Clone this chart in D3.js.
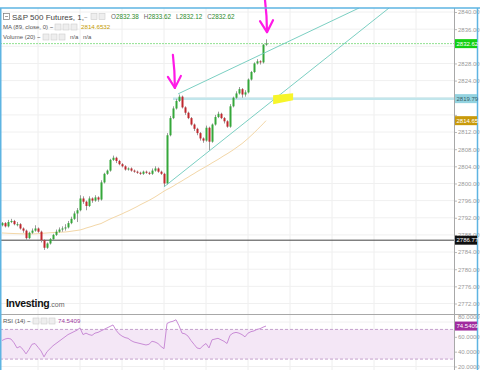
<!DOCTYPE html>
<html lang="en">
<head>
  <meta charset="utf-8">
  <title>S&amp;P 500 Futures, 1</title>
  <style>
    html, body { margin:0; padding:0; background:#fff; }
    svg { display:block; font-family:"Liberation Sans", Arial, sans-serif; }
    .tick text { fill:#9a9a9a; }
  </style>
</head>
<body>
  <div id="chart"></div>

<script src="https://cdn.jsdelivr.net/npm/d3@7"></script>
<script>

  ////////////////////////////////////////////////// DATA (1 minute bars)

  var firstOpen = 2790.25;

  var closes = [
    2790.75, 2790.0, 2791.0, 2791.25, 2790.5, 2790.5, 2789.5, 2789.0, 2787.25, 2788.5,
    2789.0, 2789.5, 2788.75, 2786.75, 2785.0, 2786.0, 2787.0, 2788.0, 2788.75, 2789.25,
    2789.5, 2789.75, 2790.75, 2791.75, 2793.0, 2793.75, 2796.5, 2795.75, 2794.75, 2796.5,
    2796.0, 2796.75, 2796.25, 2800.25, 2802.25, 2803.0, 2805.5, 2806.0, 2805.25, 2804.5,
    2804.0, 2803.25, 2803.5, 2803.0, 2802.75, 2802.5, 2802.25, 2802.75, 2802.5, 2802.25,
    2803.0, 2803.5, 2802.75, 2802.25, 2800.0, 2811.25, 2815.25, 2817.5, 2819.25, 2820.25,
    2817.75, 2816.5, 2815.25, 2813.75, 2812.75, 2811.75, 2810.5, 2810.0, 2813.0, 2809.75,
    2813.75, 2815.5, 2816.25, 2815.25, 2814.5, 2813.25, 2818.0, 2820.0, 2821.0, 2822.0,
    2820.75, 2821.25, 2824.25, 2826.0, 2828.0, 2828.5, 2828.25, 2832.38, 2832.62
  ];

  var highs = [
    2791.0, 2791.0, 2791.5, 2791.75, 2791.5, 2791.0, 2790.75, 2789.75, 2789.25, 2788.75,
    2789.5, 2790.25, 2789.75, 2789.0, 2787.0, 2786.25, 2787.25, 2788.25, 2789.25, 2789.75,
    2790.0, 2790.5, 2791.25, 2792.25, 2793.5, 2794.25, 2797.25, 2797.0, 2796.0, 2797.0,
    2796.75, 2797.25, 2797.0, 2800.75, 2802.5, 2803.25, 2805.75, 2806.5, 2806.25, 2805.5,
    2804.75, 2804.25, 2803.75, 2803.75, 2803.25, 2803.0, 2802.75, 2803.0, 2803.0, 2802.75,
    2803.5, 2804.0, 2803.75, 2803.0, 2802.5, 2811.75, 2815.75, 2818.0, 2819.75, 2820.75,
    2820.5, 2818.0, 2816.75, 2815.5, 2814.0, 2813.0, 2812.0, 2810.75, 2813.5, 2813.25,
    2814.0, 2816.0, 2816.75, 2816.5, 2815.5, 2814.75, 2818.5, 2820.25, 2821.5, 2822.5,
    2822.25, 2821.75, 2824.5, 2826.25, 2828.25, 2829.0, 2828.75, 2832.5, 2833.62
  ];

  var lows = [
    2790.0, 2789.75, 2789.75, 2790.75, 2790.25, 2790.0, 2789.25, 2788.5, 2786.75, 2787.0,
    2788.25, 2788.75, 2788.5, 2786.25, 2784.5, 2784.75, 2785.75, 2786.75, 2787.75, 2788.5,
    2788.75, 2789.0, 2789.5, 2790.5, 2791.5, 2791.0, 2793.5, 2795.25, 2793.75, 2794.5,
    2795.5, 2795.75, 2795.75, 2796.0, 2800.0, 2802.0, 2802.75, 2805.25, 2804.75, 2804.25,
    2803.75, 2803.0, 2803.0, 2802.75, 2802.5, 2802.25, 2802.0, 2802.0, 2802.25, 2802.0,
    2802.0, 2802.75, 2802.5, 2802.0, 2799.25, 2799.75, 2811.0, 2815.0, 2817.25, 2819.0,
    2817.5, 2816.0, 2815.0, 2813.5, 2812.25, 2811.25, 2810.0, 2809.5, 2809.75, 2807.75,
    2809.5, 2813.5, 2815.25, 2815.0, 2814.0, 2813.0, 2813.0, 2817.75, 2819.75, 2820.75,
    2820.0, 2820.25, 2821.0, 2824.0, 2825.75, 2827.75, 2827.75, 2828.0, 2832.12
  ];

  // MA (89, close)
  var maValues = [
    2788.45, 2788.42, 2788.38, 2788.35, 2788.32, 2788.3, 2788.27, 2788.25, 2788.23, 2788.22, 2788.22,
    2788.25, 2788.3, 2788.35, 2788.4, 2788.45, 2788.5, 2788.55, 2788.58, 2788.62, 2788.65, 2788.68,
    2788.75, 2788.85, 2788.95, 2789.05, 2789.15, 2789.35, 2789.6, 2789.8, 2790.0, 2790.25, 2790.45,
    2790.65, 2791.0, 2791.35, 2791.7, 2792.0, 2792.3, 2792.6, 2792.9, 2793.25, 2793.55, 2793.9,
    2794.25, 2794.6, 2795.0, 2795.35, 2795.7, 2796.05, 2796.45, 2796.85, 2797.3, 2797.75, 2798.2,
    2798.6, 2798.95, 2799.35, 2799.8, 2800.2, 2800.6, 2801.05, 2801.45, 2801.9, 2802.3, 2802.75,
    2803.15, 2803.55, 2803.95, 2804.35, 2804.8, 2805.2, 2805.6, 2806.05, 2806.5, 2806.9, 2807.35,
    2807.8, 2808.3, 2808.8, 2809.3, 2809.9, 2810.5, 2811.15, 2811.8, 2812.5, 2813.2, 2813.9, 2814.65
  ];

  // RSI (14)
  var rsiValues = [
    55, 57, 58, 57, 52, 45, 47, 43, 37, 43,
    50, 51, 46, 41, 33, 40, 44, 48, 51, 54,
    57, 60, 63, 65, 67, 69, 72, 63, 65, 63,
    62, 65, 66, 68, 70, 72, 74, 76, 69, 64,
    61, 59, 58, 55, 53, 52, 51, 50, 49, 50,
    54, 53, 51, 47, 44, 78, 80, 81, 83, 75,
    65, 64, 61, 55, 50, 45, 44, 48, 51, 45,
    56, 57, 58, 56, 54, 51, 62, 65, 66, 65,
    63, 60, 65, 67, 68, 70, 71, 73, 74.5409
  ];

  var priceTicks = [2772, 2776, 2780, 2784, 2788, 2792, 2796, 2800, 2804, 2808, 2812, 2816, 2820, 2824, 2828, 2832, 2836, 2840];
  var hiddenPriceLabels = [2816, 2820, 2832];   // covered by the price tags
  var rsiTicks = [20, 40, 60, 80];
  var timeGrid = [12, 26, 40, 54, 68, 82, 96, 110, 124, 138];   // bar index of vertical grid lines

  var lastBar = {o: 2832.38, h: 2833.62, l: 2832.12, c: 2832.62};
  var maLast = 2814.6532;
  var rsiLast = 74.5409;

  // drawn objects
  var levelLine = 2819.79;      // light blue horizontal from the top
  var blackLine = 2786.77;
  var trendLines = [
    {i0: 58.7, p0: 2820.9, i1: 119.0, p1: 2840.93},
    {i0: 54.0, p0: 2799.2, i1: 129.0, p1: 2840.93}
  ];
  var arrows = [
    {i: 57.3, top: 2830.0, tip: 2822.3},
    {i: 88.0, top: 2842.8, tip: 2835.3}
  ];
  var highlight = {i: 93.7, p: 2819.9};

  ////////////////////////////////////////////////// SETUP

  var width = 480, height = 370;
  var axisX = 454;
  var paneTop = 8, paneBottom = 314;

  var bars = closes.map(function(c, i) {
    return {i: i, o: i == 0 ? firstOpen : closes[i - 1], h: highs[i], l: lows[i], c: c};
  });

  var x = d3.scaleLinear().domain([0, 150]).range([2, 452]);
  var y = d3.scaleLinear().domain([2772, 2840]).range([303.5, 12]);
  var yR = d3.scaleLinear().domain([20, 80]).range([366.5, 322]);

  var svg = d3.select("#chart").append("svg")
    .attr("width", width)
    .attr("height", height);

  var defs = svg.append("defs");
  defs.append("clipPath").attr("id", "mainClip").append("rect")
    .attr("x", 0).attr("y", paneTop).attr("width", axisX).attr("height", paneBottom - paneTop);
  defs.append("clipPath").attr("id", "rsiClip").append("rect")
    .attr("x", 0).attr("y", paneBottom).attr("width", axisX).attr("height", height - paneBottom);

  ////////////////////////////////////////////////// GRID

  var grid = svg.append("g");

  grid.selectAll(".vgrid").data(timeGrid).enter().append("line")
    .attr("x1", function(d) { return x(d); }).attr("x2", function(d) { return x(d); })
    .attr("y1", paneTop).attr("y2", height)
    .attr("stroke", "#eeeeee");

  grid.selectAll(".hgrid").data(priceTicks).enter().append("line")
    .attr("x1", 0).attr("x2", axisX)
    .attr("y1", function(d) { return y(d); }).attr("y2", function(d) { return y(d); })
    .attr("stroke", "#f0f0f0");

  grid.selectAll(".rgrid").data(rsiTicks).enter().append("line")
    .attr("x1", 0).attr("x2", axisX)
    .attr("y1", function(d) { return yR(d); }).attr("y2", function(d) { return yR(d); })
    .attr("stroke", "#f0f0f0");

  ////////////////////////////////////////////////// MAIN PANE

  var main = svg.append("g").attr("clip-path", "url(#mainClip)");

  // current price (dotted green)
  main.append("line")
    .attr("x1", 0).attr("x2", axisX)
    .attr("y1", y(lastBar.c)).attr("y2", y(lastBar.c))
    .attr("stroke", "#8fe08f").attr("stroke-dasharray", "2,1");

  // horizontal black line
  main.append("line")
    .attr("x1", 0).attr("x2", axisX)
    .attr("y1", y(blackLine)).attr("y2", y(blackLine))
    .attr("stroke", "#444").attr("stroke-width", 1);

  // light blue level
  main.append("line")
    .attr("x1", x(57)).attr("x2", axisX)
    .attr("y1", y(levelLine)).attr("y2", y(levelLine))
    .attr("stroke", "#c2e6ec").attr("stroke-width", 2.5);

  // MA line
  main.append("path")
    .datum(maValues)
    .attr("fill", "none")
    .attr("stroke", "#f3d7a8")
    .attr("stroke-width", 1)
    .attr("d", d3.line().x(function(d, i) { return x(i); }).y(function(d) { return y(d); }));

  // candles
  var candle = main.selectAll(".bar").data(bars).enter().append("g");

  candle.append("line")
    .attr("x1", function(d) { return x(d.i) + 0.5; })
    .attr("x2", function(d) { return x(d.i) + 0.5; })
    .attr("y1", function(d) { return y(d.h); })
    .attr("y2", function(d) { return y(d.l); })
    .attr("stroke", "#9a9a9a");

  candle.append("rect")
    .attr("x", function(d) { return x(d.i) - 0.5; })
    .attr("width", 2)
    .attr("y", function(d) { return y(Math.max(d.o, d.c)); })
    .attr("height", function(d) { return Math.max(1, Math.abs(y(d.o) - y(d.c))); })
    .attr("fill", function(d) { return d.c >= d.o ? "#35a73a" : "#c0272d"; });

  // trend lines
  main.selectAll(".trend").data(trendLines).enter().append("line")
    .attr("x1", function(d) { return x(d.i0); }).attr("y1", function(d) { return y(d.p0); })
    .attr("x2", function(d) { return x(d.i1); }).attr("y2", function(d) { return y(d.p1); })
    .attr("stroke", "#6cc9bb").attr("stroke-width", 0.9);

  // yellow marker
  var hx = x(highlight.i), hy = y(highlight.p);
  svg.append("polygon")
    .attr("points", [[hx - 10, hy - 3], [hx + 10, hy - 5], [hx + 10, hy + 2], [hx - 10, hy + 6]].join(" "))
    .attr("fill", "#f7f52a");

  // magenta arrows
  var arrowG = svg.selectAll(".arrow").data(arrows).enter().append("g")
    .attr("fill", "none").attr("stroke", "#ff19e6").attr("stroke-width", 2.2)
    .attr("stroke-linecap", "round").attr("stroke-linejoin", "round");

  arrowG.append("path").attr("d", function(d) {
    var ax = x(d.i), t = y(d.top), b = y(d.tip);
    return "M" + (ax - 1) + "," + t + " Q" + (ax + 1) + "," + ((t + b) / 2) + " " + (ax + 1) + "," + b;
  });
  arrowG.append("path").attr("d", function(d) {
    var ax = x(d.i) + 1, b = y(d.tip);
    return "M" + (ax - 7) + "," + (b - 11) + " L" + ax + "," + b + " L" + (ax + 6) + "," + (b - 12);
  });

  ////////////////////////////////////////////////// RSI PANE

  var rsi = svg.append("g").attr("clip-path", "url(#rsiClip)");

  rsi.append("rect")
    .attr("x", 0).attr("width", axisX)
    .attr("y", yR(70)).attr("height", yR(30) - yR(70))
    .attr("fill", "#f4e7f6");

  rsi.selectAll(".band").data([70, 30]).enter().append("line")
    .attr("x1", 0).attr("x2", axisX)
    .attr("y1", function(d) { return yR(d); }).attr("y2", function(d) { return yR(d); })
    .attr("stroke", "#c4a0cc").attr("stroke-dasharray", "3,2");

  rsi.append("path")
    .datum(rsiValues)
    .attr("fill", "none")
    .attr("stroke", "#c98cd6")
    .attr("stroke-width", 1)
    .attr("d", d3.line().x(function(d, i) { return x(i); }).y(function(d) { return yR(d); }));

  ////////////////////////////////////////////////// AXES

  var yAxis = svg.append("g")
    .attr("transform", "translate(" + axisX + ",0)")
    .call(d3.axisRight(y).tickValues(priceTicks)
      .tickFormat(function(d) { return hiddenPriceLabels.indexOf(d) >= 0 ? "" : d3.format(".2f")(d); })
      .tickSize(3).tickSizeOuter(0).tickPadding(1));

  var rAxis = svg.append("g")
    .attr("transform", "translate(" + axisX + ",0)")
    .call(d3.axisRight(yR).tickValues(rsiTicks).tickFormat(d3.format(".4f")).tickSize(3).tickSizeOuter(0).tickPadding(1));

  // 80 label is pushed up above the RSI value tag
  rAxis.selectAll(".tick").filter(function(d) { return d == 80; }).select("text").attr("dy", "-0.55em");

  svg.selectAll(".tick text").attr("font-size", 6).attr("font-family", "Liberation Sans, Arial, sans-serif");
  svg.selectAll(".tick line").attr("stroke", "#bbb");
  svg.selectAll(".domain").remove();

  // axis separator and frame
  svg.append("line").attr("x1", axisX + 0.5).attr("x2", axisX + 0.5).attr("y1", paneTop).attr("y2", height)
    .attr("stroke", "#a8a8a8");
  svg.append("line").attr("x1", 0).attr("x2", width).attr("y1", paneBottom + 0.5).attr("y2", paneBottom + 0.5)
    .attr("stroke", "#a8a8a8");
  svg.append("line").attr("x1", 0).attr("x2", width).attr("y1", paneTop).attr("y2", paneTop)
    .attr("stroke", "#5eb4e2").attr("stroke-width", 1.5);
  svg.append("line").attr("x1", 0.75).attr("x2", 0.75).attr("y1", paneTop).attr("y2", height)
    .attr("stroke", "#5eb4e2").attr("stroke-width", 1.5);
  svg.append("line").attr("x1", 477.5).attr("x2", 477.5).attr("y1", paneTop).attr("y2", height)
    .attr("stroke", "#5eb4e2").attr("stroke-width", 1.5);

  // price labels on the axis
  var priceTags = [
    {v: y(lastBar.c), text: d3.format(".2f")(lastBar.c), bg: "#12d012", fg: "#fff"},
    {v: y(levelLine), text: d3.format(".2f")(levelLine), bg: "#93d3e0", fg: "#3a5d66"},
    {v: y(maLast), text: d3.format(".2f")(maLast), bg: "#c99a0a", fg: "#fff"},
    {v: y(blackLine), text: d3.format(".2f")(blackLine), bg: "#111", fg: "#fff"},
    {v: yR(rsiLast), text: d3.format(".4f")(rsiLast), bg: "#a02b9e", fg: "#fff"}
  ];
  var tag = svg.selectAll(".ptag").data(priceTags).enter().append("g");
  tag.append("rect")
    .attr("x", axisX + 1).attr("width", 22)
    .attr("y", function(d) { return d.v - 4.5; }).attr("height", 9)
    .attr("fill", function(d) { return d.bg; });
  tag.append("text")
    .attr("x", axisX + 2.5).attr("y", function(d) { return d.v + 2.2; })
    .attr("font-size", 6)
    .attr("fill", function(d) { return d.fg; })
    .text(function(d) { return d.text; });

  ////////////////////////////////////////////////// LEGENDS

  function icons(g, x0, yTop, n) {
    for (var k = 0; k < n; k++) {
      g.append("rect").attr("x", x0 + k * 8).attr("y", yTop).attr("width", 6).attr("height", 6)
        .attr("fill", "#eee").attr("stroke", "#ccc").attr("stroke-width", 0.6);
    }
  }

  var leg = svg.append("g").attr("font-family", "Liberation Sans, Arial, sans-serif");

  leg.append("rect").attr("x", 3.5).attr("y", 13.5).attr("width", 6).attr("height", 6)
    .attr("fill", "none").attr("stroke", "#777").attr("stroke-width", 0.7);
  leg.append("line").attr("x1", 5).attr("x2", 8).attr("y1", 16.5).attr("y2", 16.5)
    .attr("stroke", "#777").attr("stroke-width", 0.7);
  leg.append("text").attr("x", 12).attr("y", 19.5).attr("font-size", 8).attr("fill", "#444")
    .text("S&P 500 Futures, 1,");
  leg.append("text").attr("x", 84).attr("y", 19).attr("font-size", 6).attr("fill", "#999").text("~");
  icons(leg, 91, 13.5, 2);

  var ohlc = leg.append("text").attr("x", 111).attr("y", 19).attr("font-size", 6.3).attr("fill", "#666");
  [["O", lastBar.o], ["H", lastBar.h], ["L", lastBar.l], ["C", lastBar.c]].forEach(function(p, k) {
    ohlc.append("tspan").attr("dx", k ? 5 : 0).text(p[0]);
    ohlc.append("tspan").attr("fill", "#2b8a2b").text(d3.format(".2f")(p[1]));
  });

  leg.append("text").attr("x", 3).attr("y", 29).attr("font-size", 6).attr("fill", "#555")
    .text("MA (89, close, 0) ~");
  icons(leg, 55, 24, 3);
  leg.append("text").attr("x", 81).attr("y", 29).attr("font-size", 6.2).attr("fill", "#c49a00")
    .text(d3.format(".4f")(maLast));

  leg.append("text").attr("x", 3).attr("y", 39).attr("font-size", 6).attr("fill", "#555")
    .text("Volume (20) ~");
  icons(leg, 43, 34, 3);
  leg.append("text").attr("x", 70).attr("y", 39).attr("font-size", 6).attr("fill", "#555").text("n/a");
  leg.append("text").attr("x", 83).attr("y", 39).attr("font-size", 6).attr("fill", "#555").text("n/a");

  leg.append("text").attr("x", 3).attr("y", 323).attr("font-size", 6).attr("fill", "#555")
    .text("RSI (14) ~");
  icons(leg, 33, 318, 3);
  leg.append("text").attr("x", 58).attr("y", 323).attr("font-size", 6.2).attr("fill", "#a03aa0")
    .text(d3.format(".4f")(rsiLast));

  // watermark
  var logo = svg.append("text").attr("x", 6).attr("y", 307).attr("font-family", "Liberation Sans, Arial, sans-serif");
  logo.append("tspan").attr("font-size", 10.5).attr("font-weight", "bold").attr("fill", "#111").attr("letter-spacing", -0.3).text("Investing");
  logo.append("tspan").attr("font-size", 7).attr("fill", "#666").text(".com");

</script>
</body>
</html>
